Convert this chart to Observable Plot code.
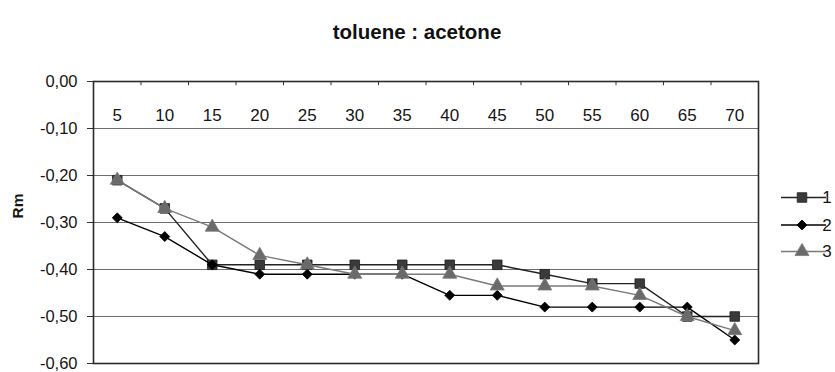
<!DOCTYPE html>
<html><head><meta charset="utf-8">
<script src="https://cdn.jsdelivr.net/npm/d3@7"></script>
<script src="https://cdn.jsdelivr.net/npm/@observablehq/plot@0.6"></script>
<style>
body{margin:0;background:#fff;}
#chart{position:relative;width:835px;height:372px;}
</style></head><body><div id="chart"></div>
<script>
const title = "toluene : acetone";
const yLabel = "Rm";
const categories = [5,10,15,20,25,30,35,40,45,50,55,60,65,70];
const seriesNames = ["1","2","3"];
const series1 = [-0.21,-0.27,-0.39,-0.39,-0.39,-0.39,-0.39,-0.39,-0.39,-0.41,-0.43,-0.43,-0.50,-0.50];
const series2 = [-0.29,-0.33,-0.39,-0.41,-0.41,-0.41,-0.41,-0.455,-0.455,-0.48,-0.48,-0.48,-0.48,-0.55];
const series3 = [-0.21,-0.27,-0.31,-0.37,-0.39,-0.41,-0.41,-0.41,-0.435,-0.435,-0.435,-0.455,-0.50,-0.53];
const yTicks = [0,-0.1,-0.2,-0.3,-0.4,-0.5,-0.6];

const allSeries = [series1, series2, series3];
const data = seriesNames.flatMap((s,i)=>allSeries[i].map((v,j)=>({series:s, x:categories[j], y:v})));
const step = categories[1]-categories[0];
const bounds = categories.map(c=>c+step/2).slice(0,-1);
const sty = {
  "1":{stroke:"#222", fill:"#3a3a3a", symbol:"square", r:5.4},
  "2":{stroke:"#000", fill:"#000", symbol:"diamond2", r:4.5},
  "3":{stroke:"#7a7a7a", fill:"#6a6a6a", symbol:"triangle", r:5.2}
};
const fmt = d => d3.format(".2f")(d).replace("−","-").replace(".",",");
const font = "'Liberation Sans', Arial, sans-serif";

const seriesMarks = seriesNames.flatMap(s=>{
  const d = data.filter(e=>e.series===s);
  return [
    Plot.line(d,{x:"x",y:"y",stroke:sty[s].stroke,strokeWidth:1.4}),
    Plot.dot(d,{x:"x",y:"y",symbol:()=>sty[s].symbol,fill:sty[s].fill,stroke:sty[s].stroke,strokeWidth:0.8,r:sty[s].r})
  ];
});

const chart = Plot.plot({
  width:835, height:372,
  marginLeft:93, marginRight:77, marginTop:81, marginBottom:9,
  x:{type:"linear", domain:[categories[0]-step/2, categories[categories.length-1]+step/2], axis:null},
  y:{domain:[-0.6,0], axis:null},
  symbol:{type:"identity"},
  style:{fontFamily:font, background:"#fff", overflow:"visible"},
  marks:[
    Plot.ruleY(yTicks.filter(v=>v>-0.6&&v<0),{y:d=>d, stroke:"#6e6e6e", strokeWidth:1}),
    Plot.axisY({ticks:yTicks, tickFormat:fmt, tickSize:6, tickPadding:10, fontSize:16.5, label:null, stroke:"#333", color:"#151515"}),
    Plot.ruleX(bounds,{x:d=>d, y1:0, y2:-0.009, stroke:"#333", strokeWidth:1}),
    Plot.text(categories,{x:d=>d, text:d=>String(d), frameAnchor:"top", dy:27, fontSize:17, fill:"#151515"}),
    ...seriesMarks,
    Plot.frame({stroke:"#2a2a2a", strokeWidth:1.6}),
    Plot.text([title],{text:d=>d, frameAnchor:"top", dy:-57, dx:-9, fontSize:20.5, fontWeight:"bold", fill:"#111"}),
    Plot.text([yLabel],{text:d=>d, frameAnchor:"left", dx:-75, dy:-4, rotate:-90, fontSize:15.5, fontWeight:"bold", fill:"#151515"})
  ]
});
document.getElementById("chart").appendChild(chart);

// legend
const svg = d3.select(chart);
const lg = svg.append("g").attr("font-family",font).attr("font-size",17).attr("fill","#151515");
const legY = [197.5,225,251.5];
const symMap = {square:d3.symbolSquare, diamond2:d3.symbolDiamond2, triangle:d3.symbolTriangle};
seriesNames.forEach((s,i)=>{
  const y = legY[i];
  lg.append("line").attr("x1",781).attr("x2",826).attr("y1",y).attr("y2",y).attr("stroke",sty[s].stroke).attr("stroke-width",1.4);
  lg.append("path").attr("d",d3.symbol(symMap[sty[s].symbol], Math.PI*sty[s].r*sty[s].r)()).attr("transform",`translate(802,${y})`)
    .attr("fill",sty[s].fill).attr("stroke",sty[s].stroke).attr("stroke-width",0.8);
  lg.append("text").attr("x",827).attr("y",y).attr("dy","0.35em").text(s);
});
</script></body></html>
